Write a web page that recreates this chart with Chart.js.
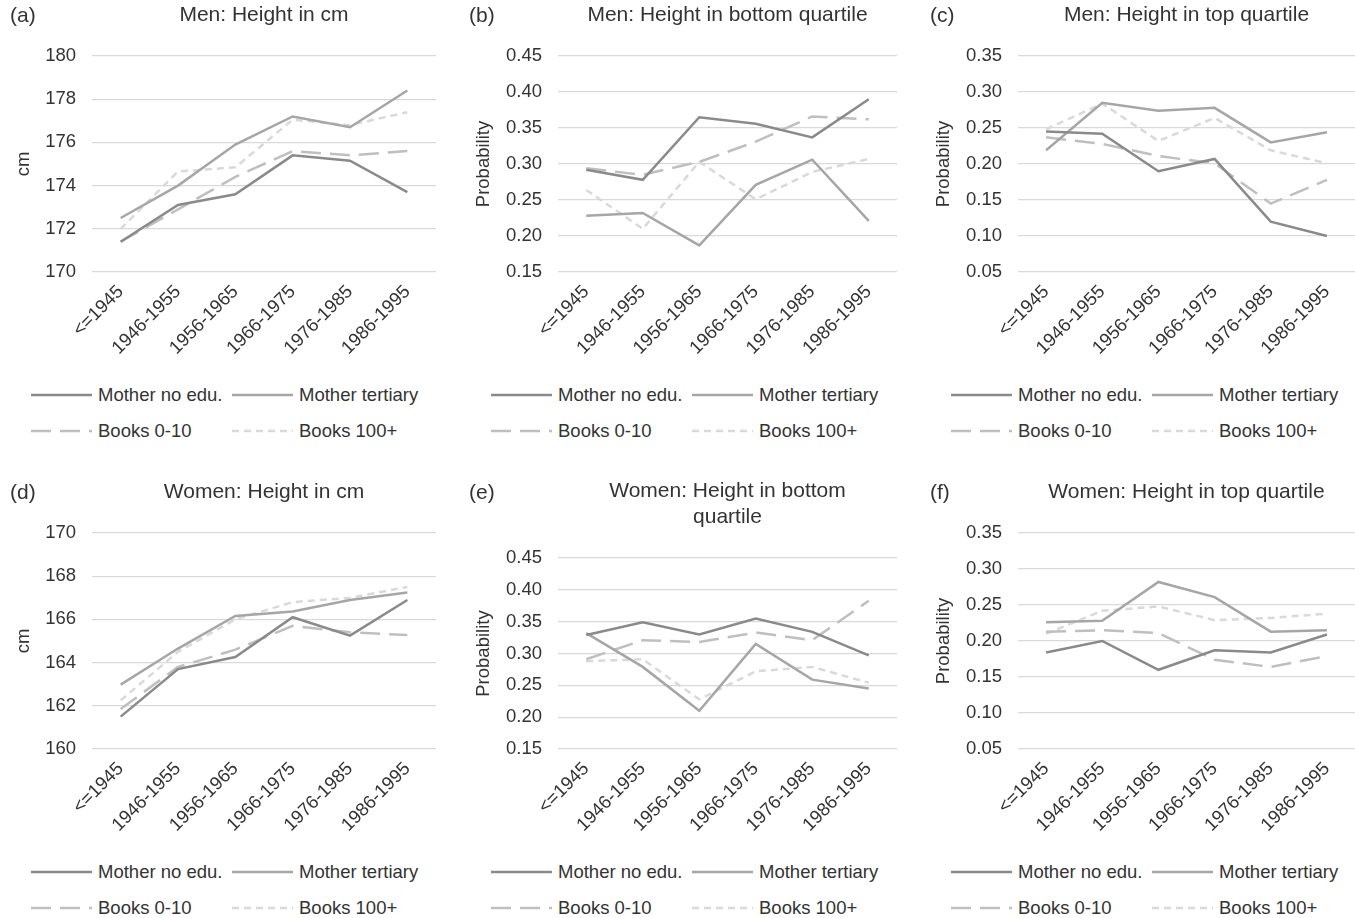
<!DOCTYPE html>
<html>
<head>
<meta charset="utf-8">
<script src="https://cdn.jsdelivr.net/npm/chart.js@4.4.1/dist/chart.umd.min.js"></script>
<style>
  body { margin: 0; background: #fff; font-family: "Liberation Sans", Arial, sans-serif; color: #333; }
  #page { position: relative; width: 1355px; height: 918px; overflow: hidden; }
  .panel { position: absolute; }
  .tag { position: absolute; font-size: 21px; line-height: 26px; color: #333; }
  .leg { position: absolute; font-size: 18.5px; color: #333; white-space: nowrap; }
  .leg svg { position: absolute; left: 0; top: 0; }
  .leg span { position: absolute; top: -11px; }
</style>
</head>
<body>
<div id="page"></div>
<script>
// cohorts (x axis)
var cohorts = ['<=1945', '1946-1955', '1956-1965', '1966-1975', '1976-1985', '1986-1995'];
var seriesNames = ['Mother no edu.', 'Mother tertiary', 'Books 0-10', 'Books 100+'];

// (a) Men: height in cm
var menCmNoEdu     = [171.4, 173.1, 173.6, 175.4, 175.15, 173.7];
var menCmTertiary  = [172.5, 174.0, 175.9, 177.2, 176.7, 178.4];
var menCmBooks010  = [171.4, 172.9, 174.4, 175.6, 175.4, 175.6];
var menCmBooks100  = [172.0, 174.65, 174.85, 177.05, 176.8, 177.4];

// (b) Men: bottom quartile
var menBotNoEdu    = [0.292, 0.278, 0.365, 0.356, 0.337, 0.390];
var menBotTertiary = [0.228, 0.232, 0.187, 0.271, 0.306, 0.221];
var menBotBooks010 = [0.294, 0.285, 0.303, 0.331, 0.366, 0.362];
var menBotBooks100 = [0.264, 0.210, 0.303, 0.251, 0.289, 0.307];

// (c) Men: top quartile
var menTopNoEdu    = [0.245, 0.242, 0.190, 0.207, 0.120, 0.100];
var menTopTertiary = [0.219, 0.285, 0.274, 0.278, 0.230, 0.244];
var menTopBooks010 = [0.237, 0.228, 0.211, 0.201, 0.145, 0.178];
var menTopBooks100 = [0.248, 0.284, 0.232, 0.264, 0.219, 0.201];

// (d) Women: height in cm
var womCmNoEdu     = [161.5, 163.7, 164.26, 166.1, 165.25, 166.9];
var womCmTertiary  = [162.98, 164.65, 166.16, 166.37, 166.9, 167.25];
var womCmBooks010  = [161.85, 163.8, 164.6, 165.7, 165.4, 165.28];
var womCmBooks100  = [162.25, 164.5, 166.0, 166.8, 167.0, 167.5];

// (e) Women: bottom quartile
var womBotNoEdu    = [0.329, 0.349, 0.330, 0.355, 0.334, 0.297];
var womBotTertiary = [0.332, 0.279, 0.210, 0.315, 0.259, 0.245];
var womBotBooks010 = [0.291, 0.321, 0.318, 0.333, 0.321, 0.383];
var womBotBooks100 = [0.288, 0.291, 0.228, 0.272, 0.279, 0.254];

// (f) Women: top quartile
var womTopNoEdu    = [0.184, 0.200, 0.160, 0.187, 0.184, 0.209];
var womTopTertiary = [0.226, 0.228, 0.282, 0.261, 0.213, 0.215];
var womTopBooks010 = [0.213, 0.215, 0.211, 0.174, 0.164, 0.179];
var womTopBooks100 = [0.210, 0.242, 0.248, 0.229, 0.232, 0.238];

// line styles for the four series
var lineColors = ['#8a8a8a', '#a6a6a6', '#bfbfbf', '#d9d9d9'];
var lineDashes = [[], [], [20, 9], [7, 5]];

var panels = [
  { tag: '(a)', title: 'Men: Height in cm', yTitle: 'cm', min: 170, max: 180, step: 2, dec: 0,
    data: [menCmNoEdu, menCmTertiary, menCmBooks010, menCmBooks100],
    left: 0, top: 0, width: 450, axisW: 92, yPad: 13, padRight: 14, tagX: 10, legX: 31 },
  { tag: '(b)', title: 'Men: Height in bottom quartile', yTitle: 'Probability', min: 0.15, max: 0.45, step: 0.05, dec: 2,
    data: [menBotNoEdu, menBotTertiary, menBotBooks010, menBotBooks100],
    left: 452, top: 0, width: 450, axisW: 106, yPad: 21, padRight: 5, tagX: 469, legX: 491 },
  { tag: '(c)', title: 'Men: Height in top quartile', yTitle: 'Probability', min: 0.05, max: 0.35, step: 0.05, dec: 2,
    data: [menTopNoEdu, menTopTertiary, menTopBooks010, menTopBooks100],
    left: 904, top: 0, width: 451, axisW: 114, yPad: 29, padRight: 0, tagX: 930, legX: 951 },
  { tag: '(d)', title: 'Women: Height in cm', yTitle: 'cm', min: 160, max: 170, step: 2, dec: 0,
    data: [womCmNoEdu, womCmTertiary, womCmBooks010, womCmBooks100],
    left: 0, top: 477, width: 450, axisW: 92, yPad: 13, padRight: 14, tagX: 10, legX: 31 },
  { tag: '(e)', title: ['Women: Height in bottom', 'quartile'], yTitle: 'Probability', min: 0.15, max: 0.45, step: 0.05, dec: 2,
    data: [womBotNoEdu, womBotTertiary, womBotBooks010, womBotBooks100],
    left: 452, top: 477, width: 450, axisW: 106, yPad: 21, padRight: 5, tagX: 469, legX: 491 },
  { tag: '(f)', title: 'Women: Height in top quartile', yTitle: 'Probability', min: 0.05, max: 0.35, step: 0.05, dec: 2,
    data: [womTopNoEdu, womTopTertiary, womTopBooks010, womTopBooks100],
    left: 904, top: 477, width: 451, axisW: 114, yPad: 29, padRight: 0, tagX: 930, legX: 951 }
];

var page = document.getElementById('page');
var H = 372;
var xAxisH = 90;

function legendItem(x, y, i) {
  var d = document.createElement('div');
  d.className = 'leg';
  d.style.left = x + 'px';
  d.style.top = y + 'px';
  var dash = lineDashes[i].length ? ' stroke-dasharray="' + lineDashes[i].join(' ') + '"' : '';
  d.innerHTML = '<svg width="62" height="4" style="top:-2px"><line x1="0" y1="2" x2="61" y2="2" stroke="' +
    lineColors[i] + '" stroke-width="2.5"' + dash + '/></svg><span style="left:67px">' + seriesNames[i] + '</span>';
  page.appendChild(d);
}

panels.forEach(function (p) {
  var wrap = document.createElement('div');
  wrap.className = 'panel';
  wrap.style.left = p.left + 'px';
  wrap.style.top = p.top + 'px';
  var cv = document.createElement('canvas');
  cv.width = p.width;
  cv.height = H;
  wrap.appendChild(cv);
  page.appendChild(wrap);

  var tag = document.createElement('div');
  tag.className = 'tag';
  tag.textContent = p.tag;
  tag.style.left = p.tagX + 'px';
  tag.style.top = (p.top + 2) + 'px';
  page.appendChild(tag);

  // legend: two rows, two columns
  var ly = p.top + 395;
  legendItem(p.legX, ly, 0);
  legendItem(p.legX + 201, ly, 1);
  legendItem(p.legX, ly + 36, 2);
  legendItem(p.legX + 201, ly + 36, 3);

  var twoLine = Array.isArray(p.title);

  new Chart(cv.getContext('2d'), {
    type: 'line',
    data: {
      labels: cohorts,
      datasets: p.data.map(function (vals, i) {
        return {
          label: seriesNames[i],
          data: vals,
          borderColor: lineColors[i],
          borderWidth: 2.5,
          borderDash: lineDashes[i],
          pointRadius: 0,
          tension: 0,
          fill: false
        };
      })
    },
    options: {
      responsive: false,
      animation: false,
      layout: { padding: { left: 0, right: p.padRight, top: 0, bottom: H - 272 - xAxisH } },
      plugins: {
        legend: { display: false },
        tooltip: { enabled: false },
        title: {
          display: true,
          fullSize: false,
          text: p.title,
          color: '#333',
          font: { family: 'Liberation Sans', size: 21, weight: 'normal', lineHeight: twoLine ? 1.24 : 1.2 },
          padding: twoLine ? { top: 1, bottom: 28 } : { top: 2.4, bottom: 28.4 }
        }
      },
      scales: {
        x: {
          offset: true,
          grid: { display: false, drawTicks: false },
          border: { display: false },
          afterFit: function (axis) { axis.height = xAxisH; },
          ticks: {
            autoSkip: false,
            maxRotation: 45,
            minRotation: 45,
            padding: 9,
            color: '#333',
            font: { family: 'Liberation Sans', size: 18.5 }
          }
        },
        y: {
          min: p.min,
          max: p.max,
          afterFit: function (axis) { axis.width = p.axisW; },
          grid: { color: '#d9d9d9', lineWidth: 1.3, drawTicks: false },
          border: { display: false },
          ticks: {
            stepSize: p.step,
            padding: 16,
            color: '#333',
            font: { family: 'Liberation Sans', size: 18.5 },
            callback: function (v) { return Number(v).toFixed(p.dec); }
          },
          title: {
            display: true,
            text: p.yTitle,
            color: '#333',
            font: { family: 'Liberation Sans', size: 18.5 },
            padding: { top: p.yPad, bottom: 4 }
          }
        }
      }
    }
  });
});
</script>
</body>
</html>
